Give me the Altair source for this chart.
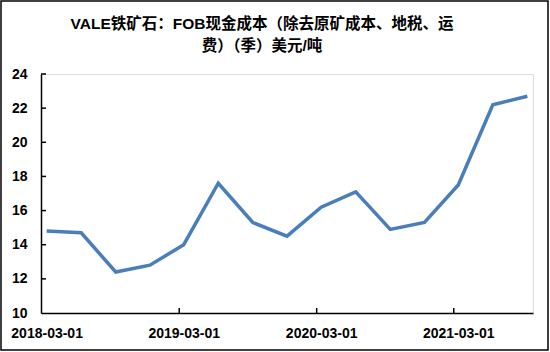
import altair as alt
import pandas as pd

dates = ["2018-03-01", "2018-06-01", "2018-09-01", "2018-12-01",
         "2019-03-01", "2019-06-01", "2019-09-01", "2019-12-01",
         "2020-03-01", "2020-06-01", "2020-09-01", "2020-12-01",
         "2021-03-01", "2021-06-01", "2021-09-01"]
values = [14.8, 14.7, 12.4, 12.8, 14.0, 17.6, 15.3, 14.5,
          16.2, 17.1, 14.9, 15.3, 17.5, 22.2, 22.7]
tick_dates = ["2019-03-01", "2020-03-01", "2021-03-01"]
y_ticks = [12, 14, 16, 18, 20, 22, 24]
title_lines = ["VALE铁矿石：FOB现金成本（除去原矿成本、地税、运", "费）（季）美元/吨"]

df = pd.DataFrame({"date": dates, "value": values})
tick_df = pd.DataFrame({"date": tick_dates})
ytick_df = pd.DataFrame({"v": y_ticks})

FONT = "Liberation Sans"
W, H = 492, 239

xscale = alt.Scale(type="utc",
                   domain=[alt.DateTime(year=2018, month=2, date=14, utc=True),
                           alt.DateTime(year=2021, month=9, date=16, utc=True)])
yscale = alt.Scale(domain=[10, 24], nice=False, zero=False)

xaxis = alt.Axis(
    values=[alt.DateTime(year=y, month=3, date=1, utc=True) for y in (2018, 2019, 2020, 2021)],
    format="%Y-%m-%d", title=None, grid=False, ticks=False,
    labelFont=FONT, labelFontSize=14, labelFontWeight="bold", labelColor="#000",
    labelPadding=13, domainColor="#000", domainWidth=1.5, labelFlush=False,
    labelOverlap=False,
)
yaxis = alt.Axis(
    values=[10, 12, 14, 16, 18, 20, 22, 24], title=None, grid=False, ticks=False,
    labelFont=FONT, labelFontSize=14, labelFontWeight="bold", labelColor="#000",
    labelPadding=14, domainColor="#000", domainWidth=1.5, labelOverlap=False,
    labelFlush=False,
)

line = alt.Chart(df).mark_line(color="#4A7EBB", strokeWidth=3.5, strokeJoin="miter").encode(
    x=alt.X("date:T", scale=xscale, axis=xaxis),
    y=alt.Y("value:Q", scale=yscale, axis=yaxis),
)

xticks = alt.Chart(tick_df).mark_rule(color="#000", strokeWidth=1.5, xOffset=-4.5).encode(
    x=alt.X("date:T", scale=xscale, axis=xaxis),
    y=alt.value(H), y2=alt.value(H - 5),
)

yticks = alt.Chart(ytick_df).mark_rule(color="#000", strokeWidth=1.5).encode(
    y=alt.Y("v:Q", scale=yscale, axis=yaxis),
    x=alt.value(0), x2=alt.value(5),
)

frame = alt.Chart(pd.DataFrame({"a": [0]})).mark_rect(
    fillOpacity=0, stroke="#000", strokeWidth=1.5
).encode(
    x=alt.value(-40), x2=alt.value(W + 15),
    y=alt.value(-73), y2=alt.value(H + 37),
)

chart = alt.layer(line, xticks, yticks, frame).properties(
    width=W, height=H,
    autosize=alt.AutoSizeParams(type="none"),
    padding={"left": 41, "top": 74, "right": 17, "bottom": 39},
    title=alt.TitleParams(
        text=title_lines, font=f"{FONT}, Noto Sans CJK SC", fontSize=15.5,
        fontWeight="bold", color="#000", anchor="middle", dx=-25,
        offset=0, dy=54, lineHeight=22, frame="group",
    ),
).configure_view(stroke=None).configure(background="white")

chart.save("out.html", embed_options={"renderer": "svg", "actions": False})
